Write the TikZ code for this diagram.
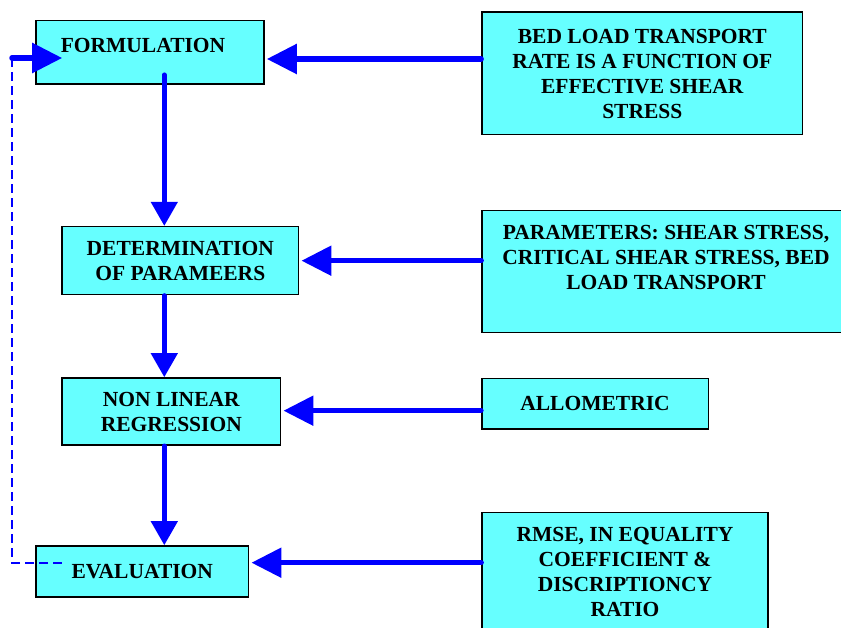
\documentclass[tikz,border=0pt]{standalone}
\usepackage{fontspec}
\setmainfont{Liberation Serif}
\usetikzlibrary{arrows.meta}
\definecolor{boxcyan}{RGB}{102,255,255}
\definecolor{arrblue}{RGB}{0,0,255}
\begin{document}
\begin{tikzpicture}[x=1pt,y=-1pt,
  txt/.style={font=\bfseries\fontsize{21.5}{25}\selectfont, align=center},
  box/.style={draw=black, line width=1.6pt, fill=boxcyan, inner sep=0pt, txt},
  lbl/.style={inner sep=0pt, txt},
  harrow/.style={draw=arrblue, line width=5.5pt, line cap=round, -{Triangle[length=30pt,width=29pt]}, shorten >=2pt},
  varrow/.style={draw=arrblue, line width=4.6pt, line cap=round, -{Triangle[length=24pt,width=26pt]}},
  fback/.style={draw=arrblue, line width=1.8pt, dash pattern=on 9pt off 5pt}
]
\useasboundingbox[fill=white] (0,0) rectangle (841,628);
% boxes
\node[box, minimum width=228pt, minimum height=63.3pt] (form) at (150,52.3) {};
\node[lbl] (formT) at (143,45) {FORMULATION};
\node[box, minimum width=320.7pt, minimum height=122.4pt] (bed) at (642.3,73.5) {BED LOAD TRANSPORT\\RATE IS A FUNCTION OF\\EFFECTIVE SHEAR\\STRESS};
\node[box, minimum width=236.7pt, minimum height=68pt] (det) at (180.3,260.7) {DETERMINATION\\OF PARAMEERS};
\node[box, minimum width=418pt, minimum height=122pt] (par) at (691,271.7) {};
\node[lbl] (parT) at (666,257.5) {PARAMETERS: SHEAR STRESS,\\CRITICAL SHEAR STRESS, BED\\LOAD TRANSPORT};
\node[box, minimum width=218.7pt, minimum height=67pt] (nlr) at (171.3,411.5) {NON LINEAR\\REGRESSION};
\node[box, minimum width=226.6pt, minimum height=50.7pt] (allo) at (595,403.7) {ALLOMETRIC};
\node[box, minimum width=212.7pt, minimum height=51pt] (eval) at (142.3,571.5) {EVALUATION};
\node[box, minimum width=286pt, minimum height=167.7pt] (rmse) at (625,596.2) {};
\node[lbl] (rmseT) at (625,571.5) {RMSE, IN EQUALITY\\COEFFICIENT \&\\DISCRIPTIONCY\\RATIO};
% horizontal arrows
\draw[harrow] ([yshift=14.5pt]bed.west) -- ([yshift=-6.7pt]form.east);
\draw[harrow] ([yshift=11pt]par.west) -- (det.east);
\draw[harrow] ([yshift=-7pt]allo.west) -- ([yshift=0.8pt]nlr.east);
\draw[harrow] ([yshift=33.5pt]rmse.west) -- ([yshift=8.8pt]eval.east);
% vertical arrows
\draw[varrow] ([xshift=14.3pt,yshift=10pt]form.south) -- ([xshift=-16pt]det.north);
\draw[varrow] ([xshift=-16pt]det.south) -- ([xshift=-7pt]nlr.north);
\draw[varrow] ([xshift=-7pt]nlr.south) -- ([xshift=22pt]eval.north);
% feedback
\coordinate (fbl) at (12,562.7);
\coordinate (fbt) at (12,58);
\draw[fback] ([xshift=27pt,yshift=8.8pt]eval.west) -- (fbl) -- (fbt);
\draw[harrow, shorten >=0pt] (fbt) -- ([xshift=27pt,yshift=-5.7pt]form.west);
\end{tikzpicture}
\end{document}
